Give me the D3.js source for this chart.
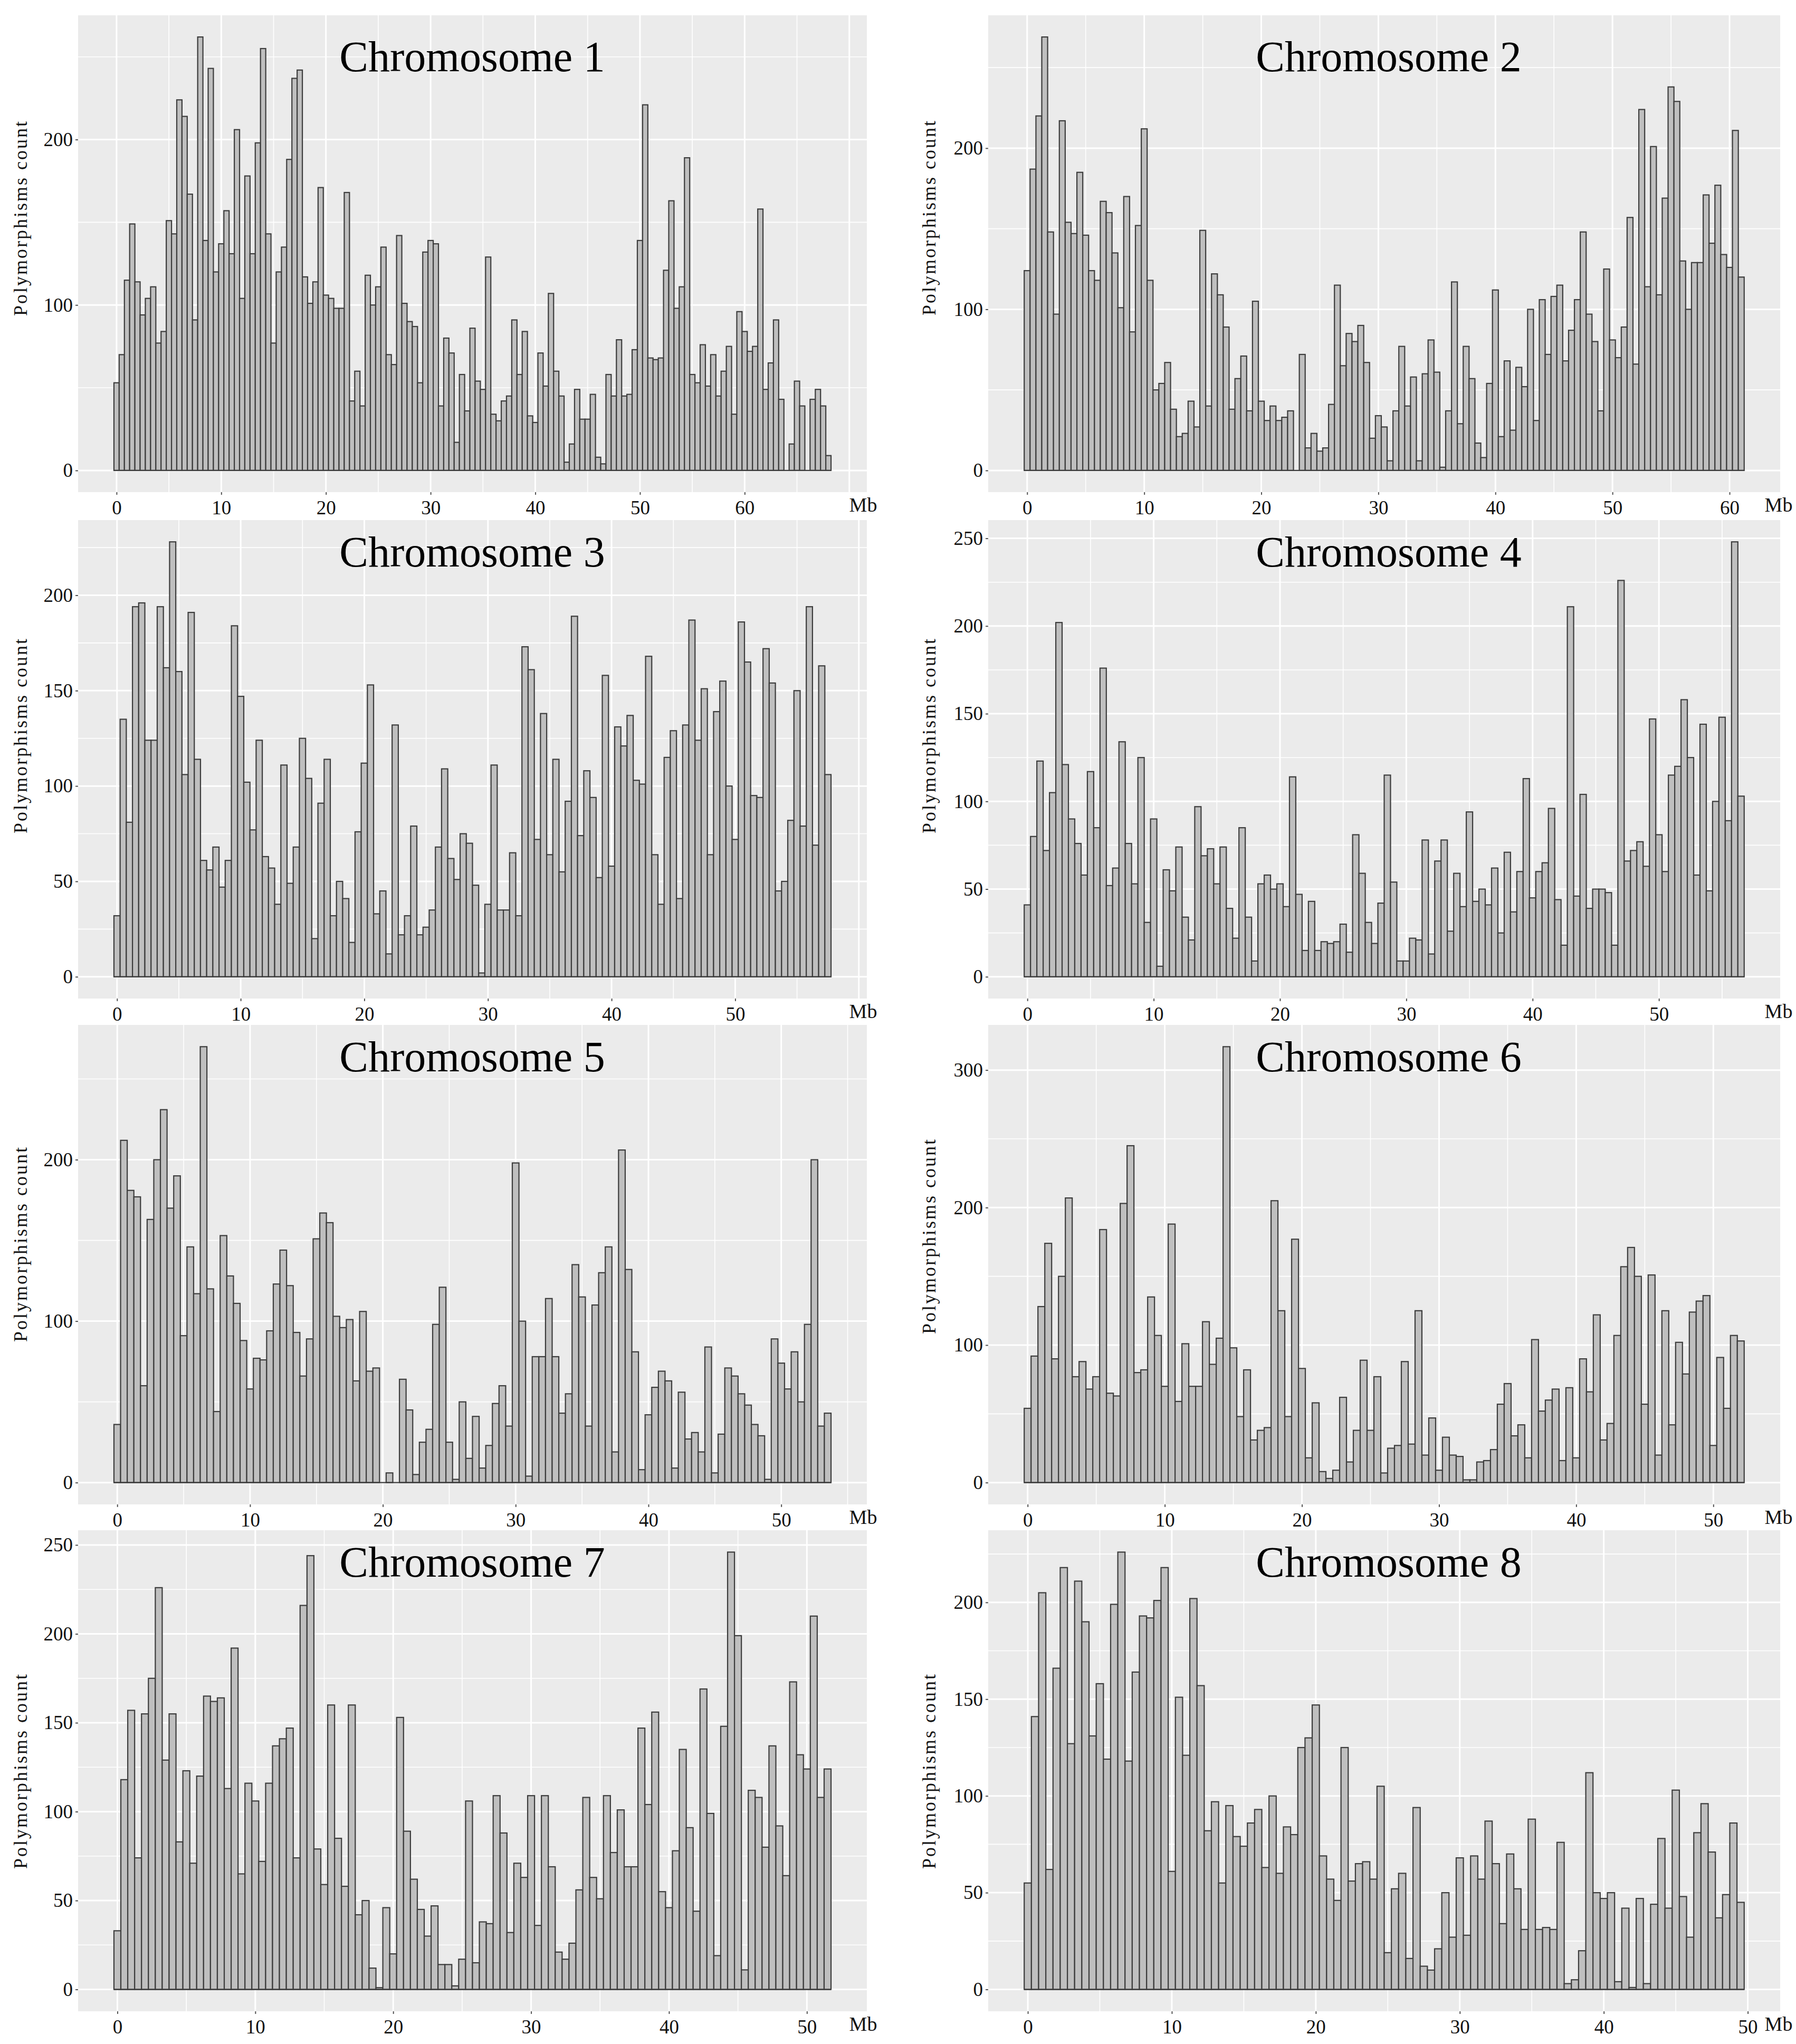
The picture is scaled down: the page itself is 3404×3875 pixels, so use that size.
<!DOCTYPE html>
<html><head><meta charset="utf-8">
<script src="https://cdn.jsdelivr.net/npm/d3@7"></script>
<style>body{margin:0;background:#fff} svg{display:block}</style>
</head><body>
<script>
// ---- data: polymorphism counts per 0.5 Mb bin (bin centres 0, 0.5, 1.0, ...) ----
const chr1 = [53,70,115,149,114,94,104,111,77,84,
151,143,224,214,167,91,262,139,243,120,
137,157,131,206,104,178,131,198,255,143,
77,120,135,188,237,242,117,101,114,171,
106,104,98,98,168,42,60,39,118,100,
111,135,70,64,142,101,90,87,53,132,
139,137,39,80,71,17,58,36,86,54,
49,129,34,30,42,45,91,58,84,33,
29,71,51,107,60,45,5,16,49,31,
31,46,8,4,58,45,79,45,46,73,
139,221,68,67,68,121,163,98,111,189,
58,53,76,51,70,45,60,75,34,96,
84,72,75,158,49,65,91,43,0,16,
54,39,0,43,49,39,9];
const chr2 = [124,187,220,269,148,97,217,154,147,185,
146,124,118,167,160,135,101,170,86,152,
212,118,50,54,67,38,21,23,43,27,
149,40,122,109,89,38,57,71,37,105,
43,31,40,31,33,37,0,72,14,23,
12,14,41,115,65,85,80,90,67,20,
34,27,6,37,77,40,58,6,60,81,
61,2,37,117,29,77,57,17,8,54,
112,21,68,25,64,52,100,31,106,72,
108,115,68,87,106,148,97,80,37,125,
81,70,89,157,66,224,114,201,109,169,
238,229,130,100,129,129,171,141,177,134,
126,211,120];
const chr3 = [32,135,81,194,196,124,124,194,162,228,
160,106,191,114,61,56,68,47,61,184,
147,102,77,124,63,57,38,111,49,68,
125,104,20,91,114,32,50,41,18,76,
112,153,33,45,12,132,22,32,79,22,
26,35,68,109,62,51,75,70,48,2,
38,111,35,35,65,32,173,161,72,138,
64,114,55,92,189,74,108,94,52,158,
58,131,121,137,103,101,168,64,38,115,
129,41,132,187,124,151,64,139,155,100,
72,186,165,95,94,172,154,45,50,82,
150,79,194,69,163,106];
const chr4 = [41,80,123,72,105,202,121,90,76,58,
117,85,176,52,62,134,76,53,125,31,
90,6,61,49,74,34,21,97,69,73,
53,74,39,22,85,34,9,53,58,50,
53,40,114,47,15,43,15,20,19,20,
30,14,81,59,31,19,42,115,54,9,
9,22,21,78,13,66,78,26,59,40,
94,43,50,41,62,25,71,37,60,113,
45,60,65,96,44,18,211,46,104,39,
50,50,48,18,226,66,72,77,63,147,
81,60,115,120,158,125,58,144,49,100,
148,89,248,103];
const chr5 = [36,212,181,177,60,163,200,231,170,190,
91,146,117,270,120,44,153,128,111,88,
58,77,76,94,123,144,122,93,66,89,
151,167,161,103,96,101,63,106,69,71,
0,6,0,64,45,5,25,33,98,121,
25,2,50,15,41,9,23,49,60,35,
198,100,4,78,78,114,78,43,55,135,
115,35,110,130,146,19,206,132,81,8,
42,59,69,63,9,56,27,31,19,84,
6,30,71,66,55,48,36,29,2,89,
74,58,81,50,98,200,35,43];
const chr6 = [54,92,128,174,90,150,207,77,88,68,
77,184,65,63,203,245,80,82,135,107,
70,188,59,101,70,70,117,86,105,317,
98,48,82,31,38,40,205,125,48,177,
83,18,58,8,3,9,62,15,38,89,
38,77,7,25,27,88,28,125,20,47,
9,33,20,19,2,2,15,16,24,57,
72,34,42,18,104,52,60,68,16,69,
18,90,66,122,31,43,107,157,171,150,
57,151,20,125,42,102,79,124,132,136,
27,91,54,107,103];
const chr7 = [33,118,157,74,155,175,226,129,155,83,
123,71,120,165,162,164,113,192,65,116,
106,72,116,137,141,147,74,216,244,79,
59,160,85,58,160,42,50,12,1,46,
20,153,89,62,45,30,47,14,14,2,
17,106,15,38,37,109,88,32,71,63,
109,36,109,69,21,17,26,56,108,63,
51,109,77,101,69,69,147,104,156,55,
46,78,135,91,44,169,99,19,148,246,
199,11,112,108,80,137,92,64,173,132,
124,210,108,124];
const chr8 = [55,141,205,62,166,218,127,211,190,131,
158,119,199,226,118,164,193,192,201,218,
61,151,121,202,157,82,97,55,95,79,
74,86,93,63,100,60,84,80,125,130,
147,69,57,46,125,56,65,66,57,105,
19,52,60,16,94,12,10,21,50,27,
68,28,69,57,87,65,34,70,52,31,
88,31,32,31,76,3,5,20,112,50,
47,50,4,42,1,47,3,44,78,42,
103,48,27,81,96,71,37,49,86,45];

const titles = ["Chromosome 1","Chromosome 2","Chromosome 3","Chromosome 4",
                "Chromosome 5","Chromosome 6","Chromosome 7","Chromosome 8"];
const yTickSteps = [100,100,50,50,100,100,50,50];
const xLabelMax = [60,60,50,50,50,50,50,50];
const binWidth = 0.5;
const yLabel = "Polymorphisms count";
const unitLabel = "Mb";

// ---- layout ----
const W = 3404, H = 3875;
const FONT = "'Liberation Serif','Times New Roman',serif";
const colX = [[148,1643],[1873,3374]];
const rowY = [[29,933],[986,1893],[1943,2852],[2901,3813]];
const titleBase = [106,88,88,88];
const titleCX = [895,2632];
const yTitleCX = [38,1760];
const yTitleCY = [[413,412],[1394,1394],[2358,2343],[3357,3357]];
const mbX = [1636,3371];

const svg = d3.select("body").append("svg")
  .attr("width",W).attr("height",H).attr("viewBox",`0 0 ${W} ${H}`)
  .style("background","#fff");

const series = [chr1,chr2,chr3,chr4,chr5,chr6,chr7,chr8];

series.forEach((counts,k)=>{
  const col = k%2, row = Math.floor(k/2);
  const [x0,x1] = colX[col], [y0,y1] = rowY[row];
  const n = counts.length;
  const lo = -binWidth/2, hi = (n-1)*binWidth + binWidth/2, r = hi-lo;
  const x = d3.scaleLinear().domain([lo-0.05*r, hi+0.05*r]).range([x0,x1]);
  const M = d3.max(counts);
  const y = d3.scaleLinear().domain([-0.05*M, 1.05*M]).range([y1,y0]);
  const g = svg.append("g");

  g.append("rect").attr("x",x0).attr("y",y0).attr("width",x1-x0).attr("height",y1-y0)
   .attr("fill","#EBEBEB");

  const [dx0,dx1] = x.domain(), [dy0,dy1] = y.domain();
  const xMaj = d3.range(Math.ceil(dx0/10)*10, dx1, 10);
  const xMin = d3.range(Math.ceil((dx0-5)/10)*10+5, dx1, 10).filter(v=>v>dx0);
  const st = yTickSteps[k];
  const yMaj = d3.range(0, dy1, st);
  const yMin = d3.range(st/2, dy1, st);

  const grid = g.append("g").attr("stroke","#ffffff");
  grid.selectAll(".xmin").data(xMin).join("line")
    .attr("x1",d=>x(d)).attr("x2",d=>x(d)).attr("y1",y0).attr("y2",y1).attr("stroke-width",1.6);
  grid.selectAll(".ymin").data(yMin).join("line")
    .attr("y1",d=>y(d)).attr("y2",d=>y(d)).attr("x1",x0).attr("x2",x1).attr("stroke-width",1.6);
  grid.selectAll(".xmaj").data(xMaj).join("line")
    .attr("x1",d=>x(d)).attr("x2",d=>x(d)).attr("y1",y0).attr("y2",y1).attr("stroke-width",3);
  grid.selectAll(".ymaj").data(yMaj).join("line")
    .attr("y1",d=>y(d)).attr("y2",d=>y(d)).attr("x1",x0).attr("x2",x1).attr("stroke-width",3);

  g.append("g").selectAll("rect").data(counts).join("rect")
    .attr("x",(d,i)=>x(i*binWidth-binWidth/2))
    .attr("width",(d,i)=>x(i*binWidth+binWidth/2)-x(i*binWidth-binWidth/2))
    .attr("y",d=>y(d))
    .attr("height",d=>y(0)-y(d))
    .attr("fill","#bfbfbf").attr("stroke","#3d3d3d").attr("stroke-width",2.2);
  // outline of empty bins along the baseline
  g.append("line").attr("x1",x(lo)).attr("x2",x(hi)).attr("y1",y(0)).attr("y2",y(0))
    .attr("stroke","#3d3d3d").attr("stroke-width",2.2);

  // axes
  const xAxis = d3.axisBottom(x).tickValues(d3.range(0,xLabelMax[k]+1,10))
    .tickSize(5).tickPadding(11).tickFormat(d3.format("d"));
  const ax = g.append("g").attr("transform",`translate(0,${y1})`).call(xAxis);
  const yAxis = d3.axisLeft(y).tickValues(yMaj).tickSize(5).tickPadding(5).tickFormat(d3.format("d"));
  const ay = g.append("g").attr("transform",`translate(${x0},0)`).call(yAxis);
  [ax,ay].forEach(a=>{
    a.select(".domain").remove();
    a.selectAll(".tick line").attr("stroke","#555").attr("stroke-width",2);
    a.selectAll(".tick text").attr("fill","#111").style("font-family",FONT).style("font-size","37px");
  });

  g.append("text").attr("x",mbX[col]).attr("y",y1+37).attr("text-anchor","middle")
    .style("font-family",FONT).style("font-size","38px").attr("fill","#111").text(unitLabel);

  g.append("text").attr("x",titleCX[col]).attr("y",y0+titleBase[row]).attr("text-anchor","middle")
    .style("font-family",FONT).style("font-size","82px").attr("fill","#000").text(titles[k]);

  const cy = yTitleCY[row][col];
  g.append("text").attr("transform",`translate(${yTitleCX[col]},${cy}) rotate(-90)`)
    .attr("text-anchor","middle").attr("dy","0.35em")
    .style("font-family",FONT).style("font-size","36px").style("letter-spacing","3px")
    .attr("fill","#111").text(yLabel);
});
</script>
</body></html>
